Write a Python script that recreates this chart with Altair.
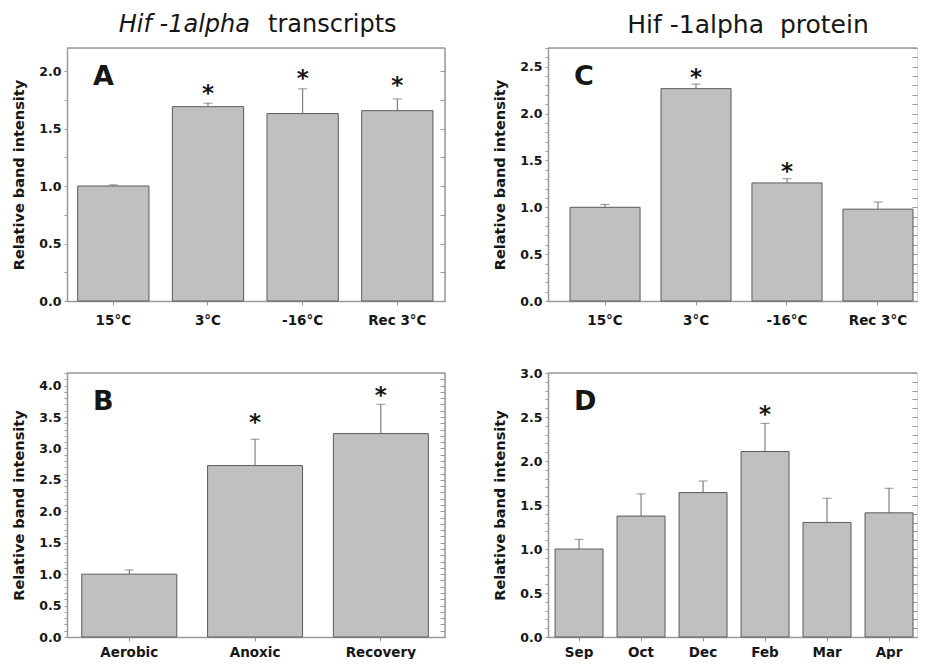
import altair as alt
import pandas as pd

FONT = "DejaVu Sans"
GRID = "#9a9a9a"
BAR_FILL = "#c0c0c0"
BAR_STROKE = "#5a5a5a"
ERR_COLOR = "#666666"
TXT = "#161616"

# ---- data ----
A_cats = ["15°C", "3°C", "-16°C", "Rec 3°C"]
A_vals = [1.00, 1.69, 1.63, 1.655]
A_err = [1.01, 1.72, 1.845, 1.757]
A_star_cats = ["3°C", "-16°C", "Rec 3°C"]
A_star_y = [1.855, 1.985, 1.92]

C_cats = ["15°C", "3°C", "-16°C", "Rec 3°C"]
C_vals = [1.00, 2.266, 1.26, 0.98]
C_err = [1.03, 2.315, 1.305, 1.056]
C_star_cats = ["3°C", "-16°C"]
C_star_y = [2.447, 1.436]

B_cats = ["Aerobic", "Anoxic", "Recovery"]
B_vals = [1.00, 2.727, 3.236]
B_err = [1.066, 3.146, 3.703]
B_star_cats = ["Anoxic", "Recovery"]
B_star_y = [3.506, 3.925]

D_cats = ["Sep", "Oct", "Dec", "Feb", "Mar", "Apr"]
D_vals = [1.00, 1.374, 1.641, 2.108, 1.302, 1.411]
D_err = [1.11, 1.626, 1.773, 2.428, 1.577, 1.69]
D_star_cats = ["Feb"]
D_star_y = [2.595]

Y_TITLE = "Relative band intensity"
TITLE_LEFT_ITALIC = "Hif -1alpha"
TITLE_LEFT_REST = "transcripts"
TITLE_RIGHT = "Hif -1alpha\u00a0 protein"

LABEL_EXPR = "abs(datum.value*2 - round(datum.value*2)) < 0.01 ? format(datum.value, '.1f') : ''"


def panel(cats, vals, errs, scats, sy, ymax, step, letter, W, H, pi, po, al,
          right_border=True, xlab_pad=8, extra=None):
    df = pd.DataFrame({"cat": cats, "val": vals, "err": errs})
    sdf = pd.DataFrame({"cat": scats, "sy": sy})
    n = int(round(ymax / step))
    ticks = [round(i * step, 3) for i in range(n + 1)]
    xs = alt.Scale(domain=cats, paddingInner=pi, paddingOuter=po, align=al)
    ys = alt.Scale(domain=[0, ymax], nice=False, zero=True)

    xaxis = alt.Axis(title=None, labelAngle=0, labelFont=FONT, labelFontWeight="bold",
                     labelFontSize=13.5, labelColor=TXT, labelPadding=xlab_pad, tickSize=4,
                     tickColor=GRID, domainColor=GRID, domainWidth=1.5, grid=False,
                     minExtent=0)
    yaxis = alt.Axis(title=Y_TITLE, values=ticks, labelExpr=LABEL_EXPR, labelOverlap=False,
                     labelFont=FONT, labelFontWeight="bold", labelFontSize=12.5, labelColor=TXT,
                     labelPadding=3, tickSize=3, tickColor=GRID, domainColor=GRID,
                     domainWidth=1.5, grid=False, titleFont=FONT, titleFontWeight="bold",
                     titleFontSize=14.5, titleColor=TXT, titlePadding=12, minExtent=0)
    yright = alt.Axis(orient="right", values=ticks, labels=False, domain=False, title=None,
                      tickSize=5, offset=-5, tickColor=GRID, grid=False,
                      minExtent=0, maxExtent=0)

    def X():
        return alt.X("cat:N", scale=xs, axis=xaxis)

    bars = alt.Chart(df).mark_bar(fill=BAR_FILL, stroke=BAR_STROKE, strokeWidth=1).encode(
        x=X(), y=alt.Y("val:Q", scale=ys, axis=yaxis))
    err = alt.Chart(df).mark_rule(color=ERR_COLOR, strokeWidth=1).encode(
        x=X(), y=alt.Y("val:Q", scale=ys, axis=yright), y2="err:Q")
    cap = alt.Chart(df).mark_tick(color=ERR_COLOR, thickness=1, size=9, orient="horizontal").encode(
        x=X(), y=alt.Y("err:Q", scale=ys, axis=None))
    stars = alt.Chart(sdf).mark_text(text="*", font=FONT, fontWeight="bold", fontSize=23,
                                     color=TXT, baseline="alphabetic", dy=13).encode(
        x=X(), y=alt.Y("sy:Q", scale=ys, axis=None))
    top = alt.Chart(pd.DataFrame({"v": [ymax]})).mark_rule(color=GRID, strokeWidth=1.5).encode(
        y=alt.Y("v:Q", scale=ys, axis=None), x=alt.value(0), x2=alt.value(W))
    let = alt.Chart(pd.DataFrame({"t": [letter]})).mark_text(
        font=FONT, fontWeight="bold", fontSize=27, color=TXT, align="left",
        baseline="alphabetic").encode(text="t:N", x=alt.value(26), y=alt.value(37))
    layers = [bars, err, cap, stars, top, let]
    if right_border:
        rb = alt.Chart(pd.DataFrame({"v": [ymax]})).mark_rule(color=GRID, strokeWidth=1.5).encode(
            x=alt.value(W), y=alt.value(0), y2=alt.value(H))
        layers.append(rb)
    if extra:
        layers.extend(extra)
    return alt.layer(*layers).resolve_axis(y="independent").properties(width=W, height=H)


def title_text(txt, x, y, align, style="normal", size=24):
    return alt.Chart(pd.DataFrame({"t": [txt]})).mark_text(
        font=FONT, fontSize=size, fontStyle=style, color=TXT, align=align,
        baseline="alphabetic").encode(text="t:N", x=alt.value(x), y=alt.value(y))


WL, WR = 378, 369
HT, HB = 253, 264

A = panel(A_cats, A_vals, A_err, A_star_cats, A_star_y, 2.2, 0.25, "A", WL, HT,
          0.247, 0.12, 0.47,
          extra=[title_text(TITLE_LEFT_ITALIC, 183, -16, "right", "italic"),
                 title_text(TITLE_LEFT_REST, 201, -16, "left")])
C = panel(C_cats, C_vals, C_err, C_star_cats, C_star_y, 2.7, 0.1, "C", WR, HT,
          0.23, 0.143, 0.846, right_border=False,
          extra=[title_text(TITLE_RIGHT, 200, -15, "center", size=25)])
B = panel(B_cats, B_vals, B_err, B_star_cats, B_star_y, 4.2, 0.1, "B", WL, HB,
          0.245, 0.125, 0.47, xlab_pad=4)
D = panel(D_cats, D_vals, D_err, D_star_cats, D_star_y, 3.0, 0.1, "D", WR, HB,
          0.226, 0.089, 0.64, right_border=False, xlab_pad=4)

row1 = alt.hconcat(A, C, spacing=45)
row2 = alt.hconcat(B, D, spacing=45)
chart = alt.vconcat(row1, row2, spacing=39).properties(
    padding={"left": 3, "top": 4, "right": 0, "bottom": 0}
).configure_view(stroke=None).configure(background="white")

chart.save("out.html", embed_options={"renderer": "svg", "actions": False})
